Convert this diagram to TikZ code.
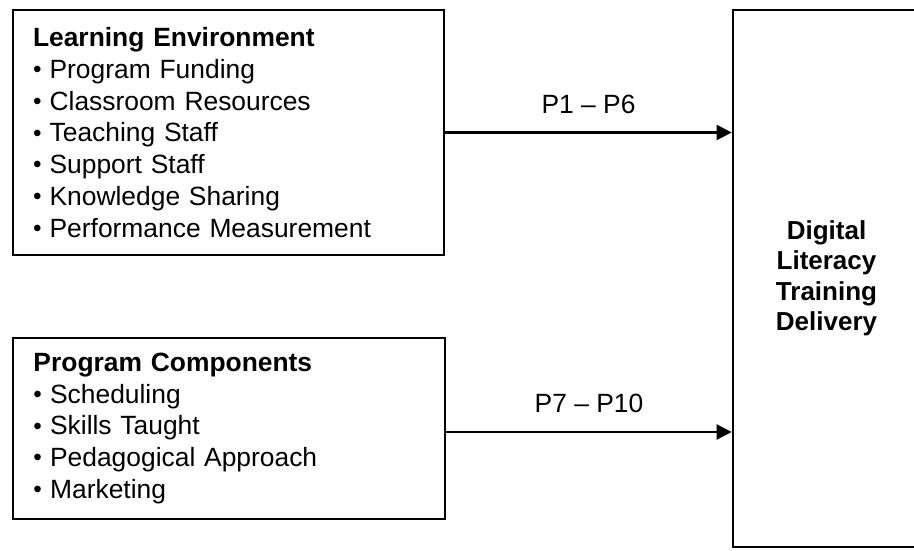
\documentclass[tikz,border=0pt]{standalone}
\usepackage{fontspec}
\setmainfont{Liberation Sans}
\usetikzlibrary{arrows.meta}
\newcommand\listbul{\makebox[16.6pt][l]{\raisebox{0.035em}{\scalebox{0.92}{•}}}}
\begin{document}
\begin{tikzpicture}[x=1pt,y=-1pt,
  box/.style={draw, line width=2.6pt, rectangle, inner sep=0pt},
  listbox/.style={box, align=left, text width=391pt, inner xsep=20pt,
    font=\fontsize{26.4}{31.8}\selectfont},
  conn/.style={line width=2.1pt, -{Triangle[length=15pt,width=15pt]}},
  plabel/.style={font=\fontsize{26.4}{31.8}\selectfont, inner sep=0pt, above=18pt, midway}]
\clip (0,0) rectangle (914,550);
\fill[white] (0,0) rectangle (914,550);
\node[listbox, minimum width=431pt, minimum height=245pt] (le) at (228.5,132.5)
  {\textbf{Learning Environment}\\
   \listbul Program Funding\\
   \listbul Classroom Resources\\
   \listbul Teaching Staff\\
   \listbul Support Staff\\
   \listbul Knowledge Sharing\\
   \listbul Performance Measurement};
\node[listbox, minimum width=432pt, minimum height=181pt] (pc) at (229,428.5)
  {\textbf{Program Components}\\
   \listbul Scheduling\\
   \listbul Skills Taught\\
   \listbul Pedagogical Approach\\
   \listbul Marketing};
\node[box, minimum width=187pt, minimum height=537pt, align=center,
  font=\bfseries\fontsize{26}{30.5}\selectfont] (dl) at (826.5,278.5)
  {Digital\\Literacy\\Training\\Delivery};
\draw[conn] (le.east) -- (le.east -| dl.west) node[plabel] {P1 \textendash{} P6};
\coordinate (pcout) at ([yshift=-3.5pt]pc.east);
\draw[conn] (pcout) -- (pcout -| dl.west) node[plabel] {P7 \textendash{} P10};
\end{tikzpicture}
\end{document}
